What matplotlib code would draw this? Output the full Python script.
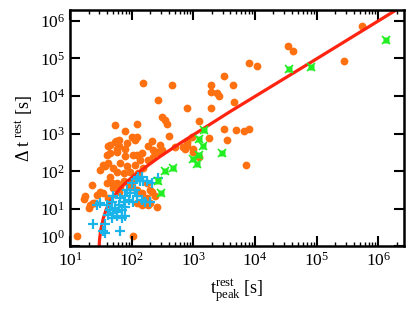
import numpy as np
import matplotlib
matplotlib.use("Agg")
import matplotlib.pyplot as plt
import matplotlib.transforms as mtransforms

plt.rcParams['font.family'] = ['Liberation Serif', 'DejaVu Serif']
plt.rcParams['mathtext.fontset'] = 'stix'

# values, as log10(t_peak), log10(dt)
orange_logt = [5.73, 4.53, 4.62, 4.04, 3.90, 5.44, 3.50, 2.18, 2.65, 3.29, 3.65, 2.43, 3.29, 3.39, 3.41,
               3.66, 2.89, 3.29, 1.73, 2.08, 2.49, 2.54, 2.58, 3.10, 1.89, 2.01, 2.08, 1.74, 1.80, 2.33,
               2.61, 3.50, 3.70, 3.83, 3.90, 3.25, 3.55, 2.98, 2.90, 2.90, 3.00, 3.85, 3.09, 1.62, 1.76,
               1.89, 2.35, 2.49, 2.70, 2.84, 2.89, 2.86, 3.00,
               1.11, 2.03, 1.24, 1.22, 1.30, 1.35, 1.54, 1.62, 1.60, 1.65, 1.76, 1.89, 2.03, 1.81, 1.92,
               1.76, 1.87, 1.98, 1.65, 1.60, 1.68, 1.76, 1.87, 1.95, 2.03, 1.49, 1.43, 1.54, 1.62, 1.41,
               1.70, 1.79, 1.81, 2.11, 2.19, 2.27, 2.35, 2.41, 2.08, 2.17, 2.25, 2.30, 2.41, 2.08, 2.17,
               2.33, 2.38, 2.25, 2.06, 2.14, 2.08, 1.33, 1.70,
               1.65, 1.73, 1.79, 1.92, 2.06, 2.27, 2.46, 2.17, 1.57, 1.49, 1.38, 2.22, 2.27, 2.30, 2.00,
               2.11]
orange_logdt = [5.86, 5.32, 5.20, 4.80, 4.89, 4.92, 4.54, 4.34, 4.30, 4.29, 4.29, 3.89, 4.10, 4.08, 4.01,
                3.85, 3.67, 3.67, 3.23, 3.26, 3.44, 3.37, 3.27, 3.35, 3.07, 2.92, 2.90, 2.80, 2.82, 2.80,
                2.95, 3.13, 3.10, 3.08, 3.13, 2.88, 2.84, 2.92, 2.80, 2.68, 2.52, 2.17, 2.37, 2.68, 2.59,
                2.59, 2.57, 2.57, 2.64, 2.64, 2.75, 2.60, 2.59,
                0.28, 0.28, 1.33, 1.26, 1.02, 1.64, 2.17, 2.22, 2.44, 2.48, 2.52, 2.41, 2.44, 2.22, 2.13,
                1.99, 1.95, 1.99, 1.86, 1.68, 1.68, 1.68, 1.73, 1.64, 1.75, 1.46, 1.37, 1.42, 1.28, 1.15,
                1.55, 1.46, 1.59, 1.95, 2.08, 2.30, 2.39, 2.52, 1.51, 1.42, 1.28, 1.15, 1.06, 1.15, 1.11,
                1.46, 1.33, 1.68, 2.17, 2.30, 2.44, 1.11, 2.08,
                2.70, 2.79, 2.66, 2.75, 2.84, 2.66, 2.70, 2.48, 2.13, 2.04, 1.15, 1.24, 1.11, 1.51, 1.59,
                1.42]

cyan_logt = [1.38, 1.81, 1.57, 1.54, 1.49, 1.60, 1.65, 1.62, 1.68, 1.76, 1.84, 1.73, 1.79, 1.87, 1.81,
             1.89, 1.95, 1.84, 1.76, 1.89, 2.00, 2.08, 2.17, 2.14, 2.25, 2.03, 2.17, 2.22, 2.30, 1.98,
             2.06, 1.92, 1.68, 1.70, 1.43, 1.57, 1.70, 1.89, 2.11, 2.19, 2.43, 2.33, 2.08, 2.17]
cyan_logdt = [0.60, 0.41, 0.60, 0.42, 1.15, 1.11, 0.97, 0.84, 0.75, 0.80, 0.75, 1.02, 1.11, 1.19, 1.28,
              1.33, 1.24, 0.97, 0.93, 1.06, 1.68, 1.80, 1.86, 1.73, 1.73, 1.19, 1.24, 1.19, 1.19, 1.42,
              1.51, 1.51, 1.19, 1.33, 1.11, 0.35, 0.89, 0.80, 1.86, 1.73, 1.82, 1.68, 1.33, 1.24]

green_logt = [6.13, 4.91, 4.56, 3.17, 3.09, 3.16, 3.09, 3.00, 3.06, 3.47, 2.67, 2.54, 2.42, 2.48]
green_logdt = [5.48, 4.78, 4.72, 3.10, 2.85, 2.66, 2.44, 2.33, 2.20, 2.48, 2.08, 2.01, 1.73, 1.42]

# red model curve, read along its path
fit_logt = [1.466, 1.472, 1.48, 1.50, 1.54, 1.59, 1.70, 1.81, 1.92, 2.05, 2.20, 2.46, 2.79, 3.60, 4.90, 6.45]
fit_logdt = [-0.3, 0.0, 0.2, 0.45, 0.75, 1.0, 1.31, 1.54, 1.72, 1.90, 2.08, 2.39, 2.75, 3.59, 4.89, 6.45]

fig = plt.figure(figsize=(4.15, 3.12), dpi=100)
ax = fig.add_axes([0.1687, 0.210, 0.805, 0.758])

ax.plot(10 ** np.array(orange_logt), 10 ** np.array(orange_logdt), 'o', color='#ff7010',
        ms=5.6, mec='none', zorder=1)
ax.plot(10 ** np.array(fit_logt), 10 ** np.array(fit_logdt), '-', color='#ff2410', lw=2.3, zorder=2)
ax.plot(10 ** np.array(cyan_logt), 10 ** np.array(cyan_logdt), '+', color='#1ab4ea',
        ms=6.5, mew=1.6, zorder=3)
ax.plot(10 ** np.array(green_logt), 10 ** np.array(green_logdt), 's', color='#22ee22',
        ms=5.0, mec='none', zorder=4)
ax.plot(10 ** np.array(green_logt), 10 ** np.array(green_logdt), 'x', color='#22ee22',
        ms=6.2, mew=1.2, zorder=4)

ax.set_xscale('log')
ax.set_yscale('log')
ax.set_xlim(10, 10 ** 6.42)
ax.set_ylim(1, 10 ** 6.29)

for s in ax.spines.values():
    s.set_linewidth(1.8)
ax.tick_params(which='major', direction='in', length=7, width=1.5, top=True, right=True, labelsize=12.5)
ax.tick_params(axis='x', which='minor', direction='in', length=3, width=1.0, top=True)
ax.tick_params(axis='y', which='minor', left=False, right=False)
ax.set_yticks([1, 10, 100, 1e3, 1e4, 1e5, 1e6])
ax.set_xticks([10, 100, 1e3, 1e4, 1e5, 1e6])

fig.canvas.draw()
# the 1e0 label sits a bit higher than its tick in the reference
lbl = ax.get_yticklabels()[0]
lbl.set_transform(lbl.get_transform() + mtransforms.ScaledTranslation(0, 10 / 100, fig.dpi_scale_trans))

ax.set_xlabel(r'$\mathregular{t^{rest}_{peak}}$ [s]', fontsize=13, labelpad=6)
ax.set_ylabel(r'$\mathregular{\Delta\ t^{\ rest}}$ [s]', fontsize=13, labelpad=4)

fig.savefig('out.png', dpi=100)
